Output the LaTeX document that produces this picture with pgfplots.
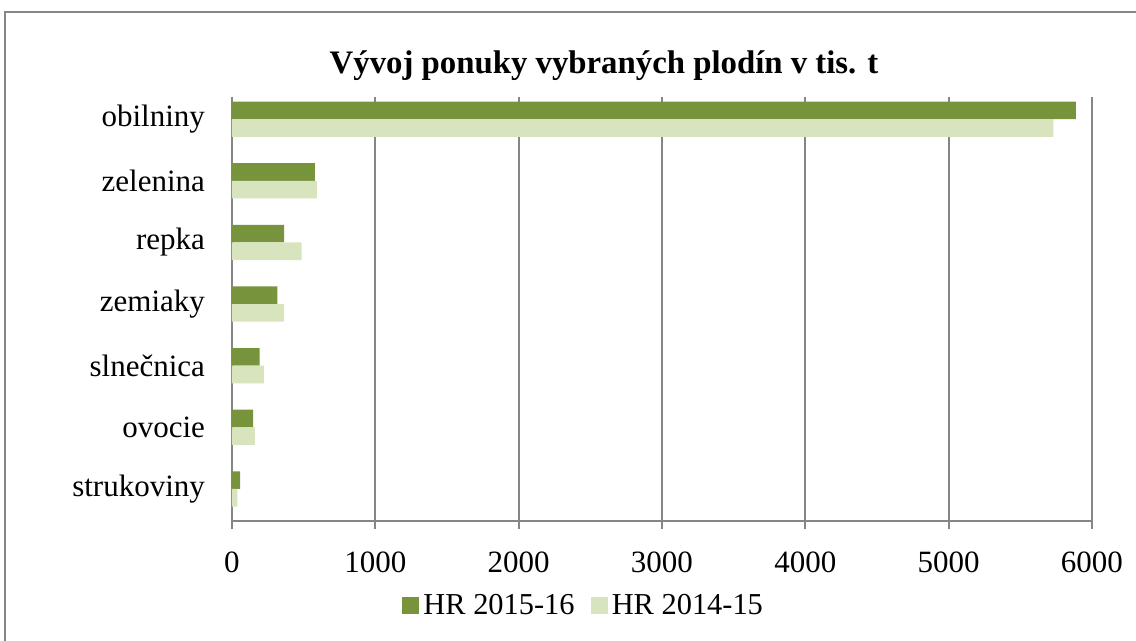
\documentclass[border=0pt]{standalone}
\usepackage{fontspec}
\setmainfont{Liberation Serif}
\usepackage{pgfplots}
\pgfplotsset{compat=1.18}

\definecolor{darkolive}{HTML}{77933C}
\definecolor{lightolive}{HTML}{D7E4BD}
\definecolor{gridgray}{HTML}{868686}

\begin{document}
\begin{tikzpicture}[x=0.5pt,y=-0.5pt]
\useasboundingbox (0,0) rectangle (1136,641);
\draw[gridgray,line width=0.8pt] (5,12) rectangle (1150,660);
\node[font=\fontsize{16.4}{18}\selectfont\bfseries] at (604,66) {Vývoj ponuky vybraných plodín v tis. t};
\begin{axis}[
  at={(116pt,-260.5pt)}, anchor=south west,
  scale only axis,
  width=430pt, height=212pt,
  xbar,
  y dir=reverse,
  xmin=0, xmax=6000,
  ymin=-0.36, ymax=6.52,
  xtick={0,1000,...,6000},
  ytick={0,...,6},
  yticklabels={obilniny,zelenina,repka,zemiaky,slnečnica,ovocie,strukoviny},
  bar width=8.8pt,
  axis line style={gridgray,line width=1pt},
  axis x line*=bottom,
  axis y line*=left,
  xmajorgrids,
  major grid style={gridgray,line width=1pt},
  x axis line style={-},
  y axis line style={-},
  xtick style={gridgray,line width=1pt},
  tick align=outside,
  major tick length=4pt,
  ytick style={draw=none},
  ticklabel style={font=\fontsize{15.5}{18}\selectfont},
  /pgf/number format/assume math mode=true,
  /pgf/number format/1000 sep={},
  xticklabel style={yshift=-8pt},
  yticklabel style={xshift=-6pt},
  legend style={at={(0.41,-0.2)}, anchor=center, draw=none,
    font=\fontsize{15.2}{18}\selectfont, legend columns=2,
    /tikz/every even column/.append style={column sep=6pt}},
  legend image code/.code={\fill[#1] (0pt,-4.3pt) rectangle (8.6pt,4.3pt);},
]
\addplot[fill=darkolive,draw=none,bar shift=4.4pt] coordinates {
(5888,0) (579,1) (363,2) (316,3) (193,4) (147,5) (56,6)};
\addplot[fill=lightolive,draw=none,bar shift=-4.4pt] coordinates {
(5730,0) (593,1) (486,2) (363,3) (223,4) (160,5) (37,6)};
\legend{HR 2015-16, HR 2014-15}
\end{axis}
\end{tikzpicture}
\end{document}
